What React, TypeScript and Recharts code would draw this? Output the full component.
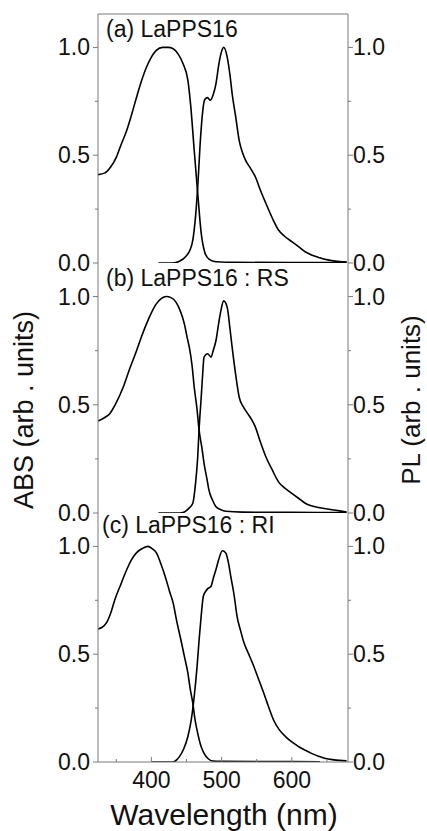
import { LineChart, Line, XAxis, YAxis, ReferenceLine } from 'recharts';

const FONT = '"Liberation Sans", Arial, Helvetica, sans-serif';
const AXIS = '#7a7a7a';
const INK = '#111';
const YMAX = 1.155;
const X_DOMAIN: [number, number] = [324, 680];

const xTicks = [350, 400, 450, 500, 550, 600, 650];
const xMajor = [400, 500, 600];
const yTicks = [0, 0.25, 0.5, 0.75, 1];
const yMajor = [0, 0.5, 1];

type Pt = [number, number];

// (a) LaPPS16 — [wavelength nm, normalised intensity]
const absA: Pt[] = [
  [324, 0.41], [334, 0.418], [342, 0.445], [350, 0.49], [357, 0.55], [365, 0.616],
  [372, 0.69], [379, 0.77], [386, 0.845], [393, 0.908], [400, 0.955], [407, 0.986],
  [416, 1.0], [424, 1.0], [431, 0.994], [438, 0.97], [445, 0.925], [452, 0.847],
  [456, 0.73], [461, 0.523], [466, 0.323], [471, 0.137], [476, 0.05], [482, 0.018],
  [492, 0.006], [520, 0.003], [600, 0.002], [678, 0.002],
];
const plA: Pt[] = [
  [410, 0], [430, 0], [440, 0.008], [449, 0.03], [455, 0.06], [459, 0.106],
  [463, 0.22], [466, 0.353], [470, 0.58], [473, 0.7], [476, 0.758], [480, 0.767],
  [484, 0.755], [488, 0.78], [492, 0.832], [496, 0.92], [499, 0.97], [503, 1.0],
  [508, 0.955], [512, 0.87], [515, 0.786], [520, 0.68], [525, 0.569], [530, 0.51],
  [534, 0.477], [541, 0.44], [548, 0.4], [555, 0.34], [563, 0.277], [572, 0.21],
  [581, 0.153], [590, 0.123], [600, 0.099], [610, 0.075], [619, 0.052], [628, 0.037],
  [638, 0.026], [647, 0.017], [657, 0.011], [668, 0.007], [678, 0.005],
];

// (b) LaPPS16 : RS
const absB: Pt[] = [
  [324, 0.425], [333, 0.44], [341, 0.46], [350, 0.51], [360, 0.582], [369, 0.665],
  [379, 0.751], [386, 0.815], [393, 0.874], [400, 0.925], [407, 0.966], [414, 0.99],
  [421, 1.0], [428, 0.995], [435, 0.974], [441, 0.935], [447, 0.874], [451, 0.81],
  [454, 0.766], [458, 0.68], [461, 0.582], [465, 0.48], [468, 0.382], [472, 0.3],
  [475, 0.229], [479, 0.16], [482, 0.106], [487, 0.06], [492, 0.029], [499, 0.015],
  [506, 0.008], [530, 0.004], [600, 0.003], [678, 0.002],
];
const plB: Pt[] = [
  [410, 0], [440, 0], [447, 0.005], [453, 0.02], [459, 0.045], [463, 0.14],
  [466, 0.26], [468, 0.39], [471, 0.536], [473, 0.64], [475, 0.72], [480, 0.736],
  [485, 0.72], [488, 0.75], [492, 0.797], [496, 0.88], [499, 0.935], [503, 0.98],
  [508, 0.95], [512, 0.85], [515, 0.766], [520, 0.64], [525, 0.536], [531, 0.49],
  [537, 0.46], [543, 0.43], [548, 0.398], [555, 0.33], [563, 0.26], [572, 0.2],
  [581, 0.144], [590, 0.115], [600, 0.091], [610, 0.067], [619, 0.045], [628, 0.033],
  [638, 0.025], [657, 0.015], [668, 0.01], [678, 0.005],
];

// (c) LaPPS16 : RI
const absC: Pt[] = [
  [324, 0.617], [330, 0.625], [336, 0.645], [342, 0.69], [348, 0.753], [356, 0.82],
  [365, 0.893], [372, 0.94], [379, 0.971], [387, 0.99], [395, 1.0], [401, 0.99],
  [407, 0.971], [414, 0.915], [421, 0.847], [426, 0.79], [431, 0.738], [436, 0.655],
  [442, 0.567], [447, 0.49], [452, 0.412], [455, 0.345], [459, 0.273], [462, 0.2],
  [466, 0.133], [470, 0.08], [475, 0.04], [481, 0.015], [487, 0.005], [500, 0.003],
  [600, 0.002], [640, 0.001],
];
const plC: Pt[] = [
  [400, 0], [430, 0], [436, 0.01], [440, 0.025], [446, 0.06], [452, 0.118],
  [457, 0.2], [461, 0.304], [465, 0.44], [468, 0.567], [471, 0.68], [474, 0.769],
  [477, 0.79], [480, 0.803], [485, 0.815], [488, 0.85], [492, 0.893], [496, 0.94],
  [501, 0.98], [506, 0.97], [510, 0.92], [513, 0.862], [518, 0.77], [522, 0.676],
  [527, 0.61], [532, 0.552], [538, 0.505], [544, 0.459], [552, 0.39], [560, 0.32],
  [567, 0.255], [574, 0.195], [582, 0.15], [591, 0.118], [600, 0.093], [610, 0.071],
  [619, 0.055], [628, 0.04], [638, 0.027], [648, 0.016], [660, 0.01], [678, 0.005],
];

const rows = (pts: Pt[]) => pts.map(([wl, v]) => ({ wl, v }));

function LeftTick({ x, y, payload }: any) {
  const major = yMajor.includes(payload.value);
  return (
    <g>
      <line x1={x - (major ? 5 : 3)} x2={x} y1={y} y2={y} stroke={AXIS} />
      {major && (
        <text x={x - 8} y={y + 8} textAnchor="end" fontSize={23} fill={INK} fontFamily={FONT}>
          {payload.value.toFixed(1)}
        </text>
      )}
    </g>
  );
}

function RightTick({ x, y, payload }: any) {
  const major = yMajor.includes(payload.value);
  return (
    <g>
      <line x1={x} x2={x + (major ? 5 : 3)} y1={y} y2={y} stroke={AXIS} />
      {major && (
        <text x={x + 5} y={y + 8} textAnchor="start" fontSize={23} fill={INK} fontFamily={FONT}>
          {payload.value.toFixed(1)}
        </text>
      )}
    </g>
  );
}

const bottomTick = (labels: boolean) =>
  function BottomTick({ x, y, payload }: any) {
    const major = xMajor.includes(payload.value);
    return (
      <g>
        <line x1={x} x2={x} y1={y} y2={y - (major ? 5 : 3)} stroke={AXIS} />
        {labels && major && (
          <text x={x} y={y + 26} textAnchor="middle" fontSize={23} fill={INK} fontFamily={FONT}>
            {payload.value}
          </text>
        )}
      </g>
    );
  };

function Panel({
  top, height, mTop, mBottom, abs, pl, showX, boxTop,
}: {
  top: number; height: number; mTop: number; mBottom: number;
  abs: Pt[]; pl: Pt[]; showX: boolean; boxTop?: boolean;
}) {
  return (
    <div style={{ position: 'absolute', left: 0, top }}>
      <LineChart width={427} height={height} margin={{ top: mTop, right: 0, bottom: mBottom, left: 0 }}>
        <XAxis
          xAxisId="x" type="number" dataKey="wl" domain={X_DOMAIN} allowDataOverflow
          ticks={xTicks} interval={0} tickSize={0} tickMargin={0}
          tick={bottomTick(showX)} axisLine={{ stroke: AXIS }} tickLine={false}
          height={showX ? 69 : 0}
        />
        <YAxis
          yAxisId="left" orientation="left" type="number" domain={[0, YMAX]} allowDataOverflow
          ticks={yTicks} interval={0} tickSize={0} tickMargin={0} width={98}
          tick={LeftTick} axisLine={{ stroke: AXIS }} tickLine={false}
        />
        <YAxis
          yAxisId="right" orientation="right" type="number" domain={[0, YMAX]} allowDataOverflow
          ticks={yTicks} interval={0} tickSize={0} tickMargin={0} width={79}
          tick={RightTick} axisLine={{ stroke: AXIS }} tickLine={false}
        />
        {boxTop && <ReferenceLine xAxisId="x" yAxisId="left" y={YMAX} stroke={AXIS} />}
        <Line
          xAxisId="x" yAxisId="left" data={rows(abs)} dataKey="v" type="monotone"
          stroke="#000" strokeWidth={1.6} dot={false} isAnimationActive={false}
        />
        <Line
          xAxisId="x" yAxisId="right" data={rows(pl)} dataKey="v" type="monotone"
          stroke="#000" strokeWidth={1.6} dot={false} isAnimationActive={false}
        />
      </LineChart>
    </div>
  );
}

export default function App() {
  return (
    <div style={{ position: 'absolute', left: 0, top: 0, width: 427, height: 831, background: '#fff', overflow: 'hidden' }}>
      <Panel top={0} height={290} mTop={14} mBottom={27} abs={absA} pl={plA} showX={false} boxTop />
      <Panel top={240} height={300} mTop={23} mBottom={27} abs={absB} pl={plB} showX={false} />
      <Panel top={490} height={341} mTop={23} mBottom={0} abs={absC} pl={plC} showX />
      <svg width={427} height={831} style={{ position: 'absolute', left: 0, top: 0, pointerEvents: 'none' }}>
        <g fontFamily={FONT} fill={INK}>
          <text x={106} y={37} fontSize={23}>(a) LaPPS16</text>
          <text x={106} y={286} fontSize={23}>(b) LaPPS16 : RS</text>
          <text x={102} y={533} fontSize={23}>(c) LaPPS16 : RI</text>
          <text transform="translate(33,410) rotate(-90)" textAnchor="middle" fontSize={27}>ABS (arb . units)</text>
          <text transform="translate(420,400) rotate(-90)" textAnchor="middle" fontSize={26}>PL (arb . units)</text>
          <text x={224} y={825} textAnchor="middle" fontSize={30}>Wavelength (nm)</text>
        </g>
      </svg>
    </div>
  );
}
